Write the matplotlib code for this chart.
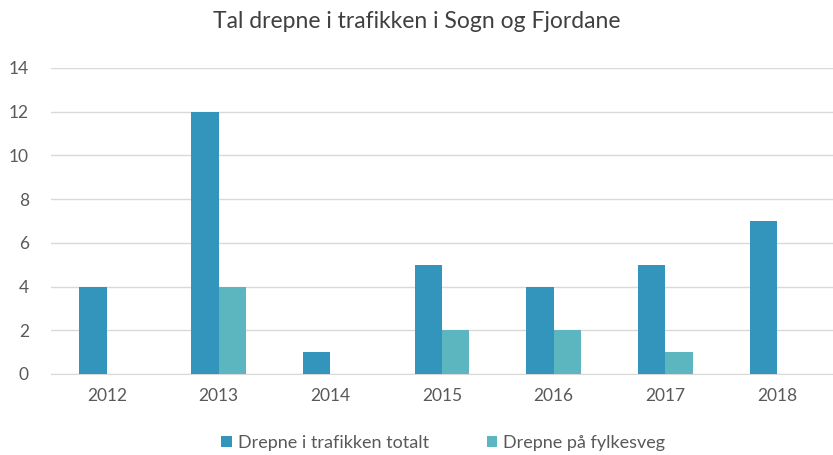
import numpy as np
import matplotlib
matplotlib.use("Agg")
import matplotlib.pyplot as plt

plt.rcParams['font.family'] = ['Lato', 'DejaVu Sans']

years = ['2012', '2013', '2014', '2015', '2016', '2017', '2018']
totalt = [4, 12, 1, 5, 4, 5, 7]
fylkesveg = [0, 4, 0, 2, 2, 1, 0]

fig = plt.figure(figsize=(8.33, 4.55), dpi=100)
ax = fig.add_axes([51 / 833, 1 - 374 / 455, 782 / 833, (374 - 68) / 455])

x = np.arange(len(years))
w = 0.245
ax.bar(x - w / 2, totalt, w, color='#3495BC', label='Drepne i trafikken totalt', zorder=3)
ax.bar(x + w / 2, fylkesveg, w, color='#5BB6BF', label='Drepne på fylkesveg', zorder=3)

ax.set_xlim(-0.5, len(years) - 0.5)
ax.set_ylim(0, 14)
ax.set_yticks(range(0, 15, 2))
ax.set_xticks(x)
ax.set_xticklabels(years)
ax.grid(axis='y', color='#D9D9D9', linewidth=1, zorder=0)
for s in ['top', 'right', 'left']:
    ax.spines[s].set_visible(False)
ax.spines['bottom'].set_color('#D9D9D9')
ax.tick_params(length=0, labelsize=12.5, colors='#595959', pad=10)
ax.tick_params(axis='y', pad=16)

fig.text(0.5, 1 - 22 / 455, 'Tal drepne i trafikken i Sogn og Fjordane',
         ha='center', va='center', fontsize=16.5, color='#404040')
fig.legend(loc='center', bbox_to_anchor=(0.532, 1 - 443 / 455), ncol=2, frameon=False,
           fontsize=13, labelcolor='#595959', handlelength=0.6, handleheight=0.6,
           handletextpad=0.3, columnspacing=3.2)

fig.savefig('out.png', dpi=100)
